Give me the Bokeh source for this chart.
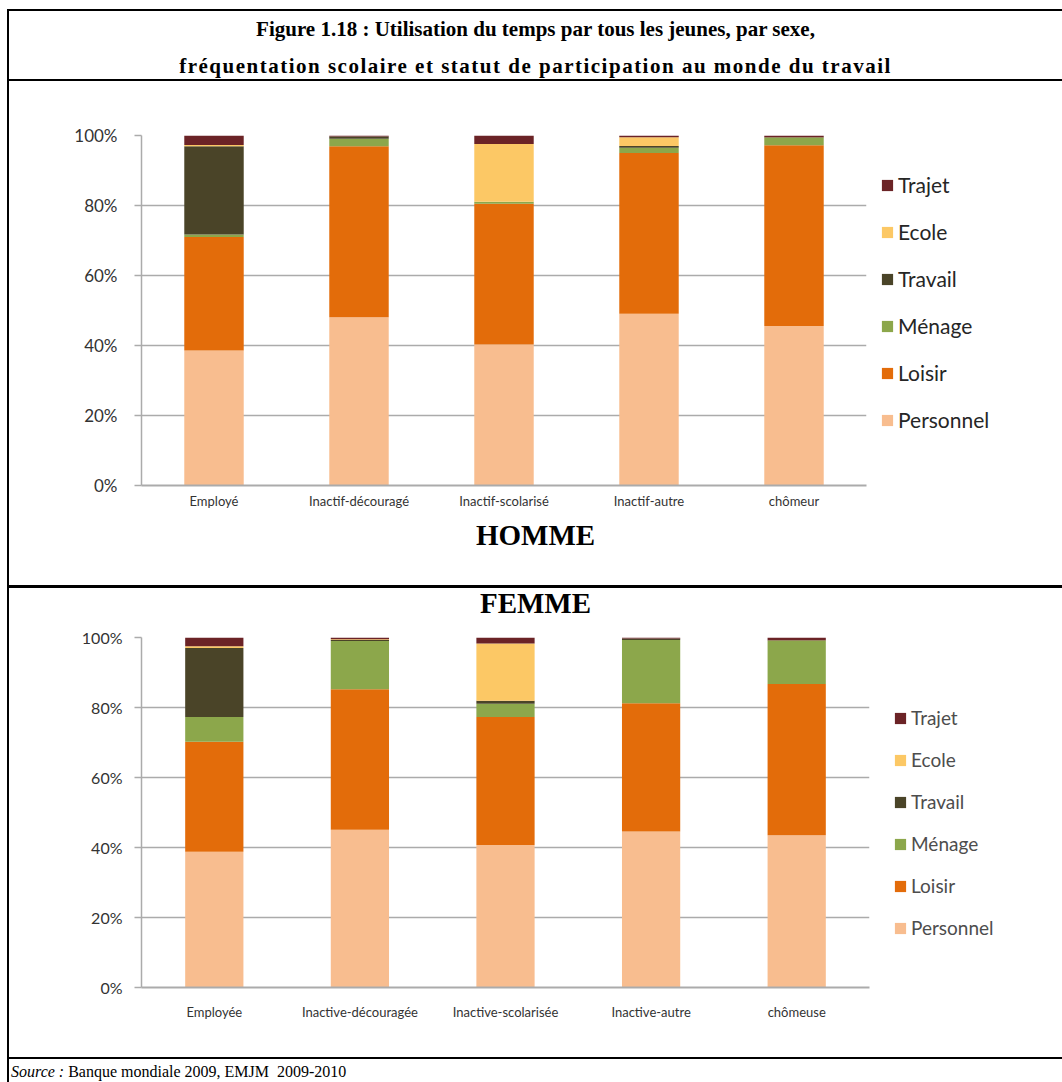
from bokeh.plotting import figure
from bokeh.layouts import column, row
from bokeh.models import (Div, Spacer, Range1d, Legend, LegendItem,
                          PrintfTickFormatter, FixedTicker, ColumnDataSource)
from bokeh.embed import file_html
from bokeh.resources import INLINE

# Activities (stack order, bottom to top) and their colours
activities = ["Personnel", "Loisir", "Ménage", "Travail", "Ecole", "Trajet"]
colors = ["#F8BD8F", "#E36C0A", "#8CA74B", "#4A4428", "#FCC865", "#6B2326"]

# HOMME: share of time (%) by labour-market status
cats_h = ["Employé", "Inactif-découragé", "Inactif-scolarisé", "Inactif-autre", "chômeur"]
personnel_h = [38.6, 48.1, 40.3, 49.1, 45.6]
loisir_h = [32.4, 48.8, 40.2, 45.9, 51.6]
menage_h = [0.7, 2.2, 0.6, 1.5, 2.1]
travail_h = [25.2, 0.6, 0.0, 0.5, 0.2]
ecole_h = [0.4, 0.0, 16.5, 2.5, 0.1]
trajet_h = [2.7, 0.3, 2.4, 0.5, 0.4]

# FEMME: share of time (%) by labour-market status
cats_f = ["Employée", "Inactive-découragée", "Inactive-scolarisée", "Inactive-autre", "chômeuse"]
personnel_f = [38.8, 45.1, 40.7, 44.6, 43.5]
loisir_f = [31.4, 40.1, 36.6, 36.6, 43.2]
menage_f = [7.1, 13.8, 3.8, 18.1, 12.3]
travail_f = [19.7, 0.3, 0.8, 0.4, 0.2]
ecole_f = [0.5, 0.2, 16.4, 0.0, 0.1]
trajet_f = [2.5, 0.5, 1.7, 0.3, 0.7]

y_ticks = [0, 20, 40, 60, 80, 100]

PAGE_W = 1053
GRID = "#ABABAB"
SANS = "Lato"
SERIF = "Liberation Serif"


def stacked_chart(categories, series, frame_w, left, right, top, bottom, bar_w,
                  tick_size, tick_standoff, x_size, x_standoff,
                  leg_size, leg_row, leg_spacing, leg_loc, leg_color):
    data = {"cat": categories}
    for name, vals in zip(activities, series):
        data[name] = vals
    src = ColumnDataSource(data)

    p = figure(x_range=categories, y_range=Range1d(0, 100),
               frame_width=frame_w, frame_height=350,
               min_border_left=left, min_border_right=right,
               min_border_top=top, min_border_bottom=bottom,
               output_backend="svg", toolbar_location=None,
               background_fill_color="white", border_fill_color="white")
    p.outline_line_color = None

    renderers = p.vbar_stack(activities, x="cat", width=bar_w, color=colors,
                             line_color=None, source=src)

    p.xgrid.grid_line_color = None
    p.ygrid.grid_line_color = GRID
    p.ygrid.grid_line_width = 1.5

    p.yaxis.ticker = FixedTicker(ticks=y_ticks)
    p.yaxis.formatter = PrintfTickFormatter(format="%d%%")
    p.yaxis.minor_tick_line_color = None
    p.yaxis.major_tick_in = 0
    p.yaxis.major_tick_out = 7
    p.yaxis.major_tick_line_color = GRID
    p.yaxis.major_tick_line_width = 1.5
    p.yaxis.axis_line_color = GRID
    p.yaxis.axis_line_width = 1.5
    p.yaxis.major_label_text_font = SANS
    p.yaxis.major_label_text_font_size = tick_size
    p.yaxis.major_label_text_color = "#333333"
    p.yaxis.major_label_standoff = tick_standoff

    p.xaxis.major_tick_line_color = None
    p.xaxis.minor_tick_line_color = None
    p.xaxis.axis_line_color = GRID
    p.xaxis.axis_line_width = 2
    p.xaxis.major_label_text_font = SANS
    p.xaxis.major_label_text_font_size = x_size
    p.xaxis.major_label_text_color = "#333333"
    p.xaxis.major_label_standoff = x_standoff

    items = [LegendItem(label=name, renderers=[r])
             for name, r in reversed(list(zip(activities, renderers)))]
    legend = Legend(items=items, location=leg_loc,
                    glyph_width=14, glyph_height=14,
                    label_text_font=SANS, label_text_font_size=leg_size,
                    label_text_color=leg_color, label_standoff=4,
                    label_height=leg_row, spacing=leg_spacing,
                    padding=0, margin=0,
                    border_line_color=None, background_fill_alpha=0)
    p.add_layout(legend, "right")
    return p


def rule(h, w=PAGE_W):
    return Div(text="", width=w, height=h, margin=0,
               styles={"background-color": "black"})


def text_block(html, h, font_size, line_h, pad_top, bold=True, pad_left=0,
               align="center"):
    weight = "bold" if bold else "normal"
    inner = (f'<div style="width:{PAGE_W - pad_left}px;'
             f'font-family:\'{SERIF}\';font-weight:{weight};'
             f'font-size:{font_size}px;line-height:{line_h}px;text-align:{align};'
             f'padding-top:{pad_top}px;padding-left:{pad_left}px;color:black;'
             f'white-space:nowrap;">{html}</div>')
    return Div(text=inner, width=PAGE_W, height=h, margin=0,
               styles={"display": "block"})


top_chart = stacked_chart(
    cats_h, [personnel_h, loisir_h, menage_h, travail_h, ecole_h, trajet_h],
    frame_w=725, left=132, right=196, top=54, bottom=30, bar_w=0.41,
    tick_size="17px", tick_standoff=17, x_size="13px", x_standoff=1,
    leg_size="21px", leg_row=24, leg_spacing=22, leg_loc=(14, 53),
    leg_color="#262626")

bottom_chart = stacked_chart(
    cats_f, [personnel_f, loisir_f, menage_f, travail_f, ecole_f, trajet_f],
    frame_w=728, left=123, right=202, top=17, bottom=70, bar_w=0.40,
    tick_size="16px", tick_standoff=12, x_size="13px", x_standoff=10,
    leg_size="19px", leg_row=22, leg_spacing=19, leg_loc=(24, 48),
    leg_color="#4D4D4D")

title = text_block(
    "Figure 1.18 : Utilisation du temps par tous les jeunes, par sexe,<br>"
    '<span style="letter-spacing:1.5px;">fréquentation scolaire et statut de '
    "participation au monde du travail</span>",
    68, 21, 37, 0)
homme = text_block("HOMME", 70, 29, 30, 5, pad_left=32)
femme = text_block("FEMME", 32, 29, 30, 0, pad_left=32)
source = text_block("<i>Source :</i> Banque mondiale 2009, EMJM&nbsp; 2009-2010",
                    23, 16, 20, 3, bold=False, pad_left=2, align="left")

content = column(title, rule(2), top_chart, homme, rule(3), femme,
                 bottom_chart, rule(2), source, spacing=0)

page = column(
    Spacer(width=1062, height=9),
    row(Spacer(width=7, height=2), rule(2, 1055), spacing=0),
    row(Spacer(width=7, height=1071), rule(1071, 2), content, spacing=0),
    spacing=0,
)

with open("out.html", "w") as f:
    f.write(file_html(page, INLINE))
